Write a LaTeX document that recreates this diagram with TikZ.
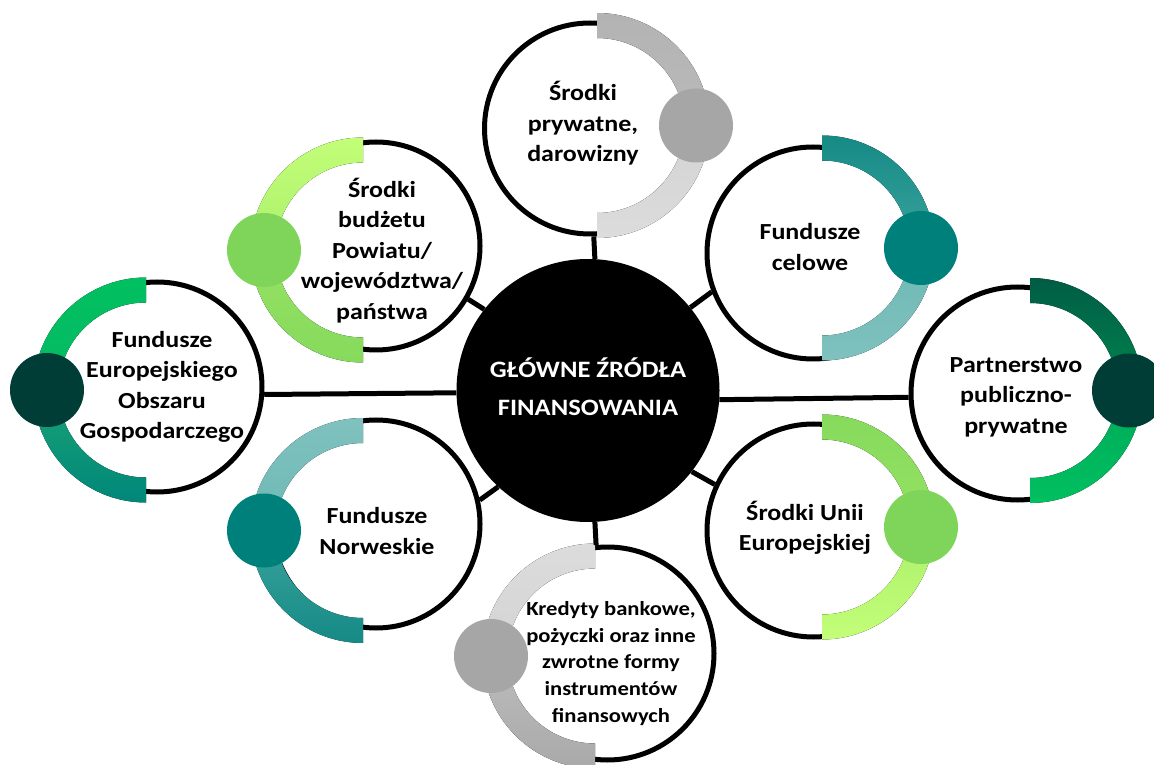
\documentclass[tikz,border=0pt]{standalone}
\usepackage{fontspec}
\setmainfont{Carlito}[FakeStretch=1.13]
\definecolor{gA}{HTML}{B3B3B3}\definecolor{gB}{HTML}{BABABA}
\definecolor{gC}{HTML}{D3D3D3}\definecolor{gD}{HTML}{DCDCDC}
\definecolor{gE}{HTML}{BDBDBD}\definecolor{gF}{HTML}{A9A9A9}
\definecolor{gDot}{HTML}{A6A6A6}
\definecolor{lA}{HTML}{C3FE78}\definecolor{lB}{HTML}{ABF06C}
\definecolor{lC}{HTML}{96E264}\definecolor{lD}{HTML}{86DA5C}
\definecolor{lDot}{HTML}{7ED55A}
\definecolor{tA}{HTML}{168A85}\definecolor{tB}{HTML}{3AA39E}
\definecolor{tC}{HTML}{6EB9B5}\definecolor{tD}{HTML}{7FC1BE}
\definecolor{tDot}{HTML}{00807B}
\definecolor{eA}{HTML}{00C060}\definecolor{eB}{HTML}{08BA64}
\definecolor{eC}{HTML}{1AA375}\definecolor{eD}{HTML}{00877A}
\definecolor{rA}{HTML}{005C44}\definecolor{rB}{HTML}{00864F}
\definecolor{rC}{HTML}{00A85A}
\definecolor{dkDot}{HTML}{003D37}
% #1 centre, #2 dot angle (0 right, 180 left), #3 #4 upper colours, #5 #6 lower colours
\newcommand\bandarcs[6]{%
  \fill[top color=#3,bottom color=#4] (#1) ++(90:112.5pt) arc[start angle=90,end angle=#2,radius=112.5pt] -- ++({#2+180}:25pt) arc[start angle=#2,end angle=90,radius=87.5pt] -- cycle;
  \fill[top color=#5,bottom color=#6] (#1) ++(#2:112.5pt) arc[start angle=#2,end angle={2*#2-90},radius=112.5pt] -- ++(90:25pt) arc[start angle={2*#2-90},end angle=#2,radius=87.5pt] -- cycle;
}
\begin{document}
\begin{tikzpicture}[x=1pt,y=1pt,
  sat/.style={circle,draw=black,line width=5pt,fill=white,inner sep=0pt},
  conn/.style={line width=5pt,draw=black},
  lbl/.style={align=center,font=\bfseries\fontsize{23}{30.5}\selectfont,text=black,inner sep=0pt},
  dotn/.style={circle,inner sep=0pt,minimum size=74pt}]
\useasboundingbox (0,0) rectangle (1154,764);
\fill[white] (0,0) rectangle (1154,764);
% satellites
\node[sat,minimum size=211pt] (P) at (590,635.5) {};
\node[sat,minimum size=208pt] (B) at (376,518) {};
\node[sat,minimum size=212pt] (C) at (813,511) {};
\node[sat,minimum size=210pt] (E) at (157,377) {};
\node[sat,minimum size=213pt] (R) at (1017.5,370.5) {};
\node[sat,minimum size=208pt] (N) at (376,240) {};
\node[sat,minimum size=213pt] (U) at (813.5,233.5) {};
\node[sat,minimum size=213pt] (K) at (607.5,110.5) {};
% band centres
\coordinate (bP) at (597,638.5);
\coordinate (bB) at (363,514);
\coordinate (bC) at (822,516);
\coordinate (bE) at (146,374);
\coordinate (bR) at (1030,373.5);
\coordinate (bN) at (363,233.5);
\coordinate (bU) at (822,237);
\coordinate (bK) at (595,108);
\bandarcs{bP}{0}{gA}{gB}{gC}{gD}
\bandarcs{bB}{180}{lA}{lB}{lC}{lD}
\bandarcs{bC}{0}{tA}{tB}{tC}{tD}
\bandarcs{bE}{180}{eA}{eB}{eC}{eD}
\bandarcs{bR}{0}{rA}{rB}{rC}{eA}
\bandarcs{bN}{180}{tD}{tC}{tB}{tA}
\bandarcs{bU}{0}{lD}{lC}{lB}{lA}
\bandarcs{bK}{180}{gD}{gC}{gE}{gF}
% dots
\node[dotn,fill=gDot,xshift=99pt] (dP) at (bP) {};
\node[dotn,fill=lDot,xshift=-99pt] (dB) at (bB) {};
\node[dotn,fill=tDot,xshift=99pt] (dC) at (bC) {};
\node[dotn,fill=dkDot,xshift=-99pt] (dE) at (bE) {};
\node[dotn,fill=dkDot,xshift=99pt] (dR) at (bR) {};
\node[dotn,fill=tDot,xshift=-99pt] (dN) at (bN) {};
\node[dotn,fill=lDot,xshift=99pt] (dU) at (bU) {};
\node[dotn,fill=gDot,xshift=-104pt] (dK) at (bK) {};
% centre
\node[circle,fill=black,inner sep=0pt,minimum size=263pt] (G) at (588,373.5) {};
% connectors
\draw[conn] (G.87) -- (P.272.7);
\draw[conn] (G.142) -- (B.330);
\draw[conn] (G.39) -- (C.201);
\draw[conn] (G.181.5) -- (E.356.3);
\draw[conn] (G.356.8) -- (R.182.4);
\draw[conn] (G.227) -- (N.13);
\draw[conn] (G.322) -- (U.155);
\draw[conn] (G.273) -- (K.96.6);
% labels
\node[lbl] (tP) at (583,640.5) {Środki\\prywatne,\\darowizny};
\node[lbl] (tB) at (382,513.5) {Środki\\budżetu\\Powiatu/\\województwa/\\państwa};
\node[lbl] (tC) at (810,517) {Fundusze\\celowe};
\node[lbl] (tE) at (162,377) {Fundusze\\Europejskiego\\Obszaru\\Gospodarczego};
\node[lbl] (tR) at (1016,367) {Partnerstwo\\publiczno-\\prywatne};
\node[lbl] (tN) at (377,233) {Fundusze\\Norweskie};
\node[lbl] (tU) at (805,236) {Środki Unii\\Europejskiej};
\node[lbl,font=\bfseries\fontsize{20}{26.7}\selectfont] (tK) at (611,100.5) {Kredyty bankowe,\\pożyczki oraz inne\\zwrotne formy\\instrumentów\\finansowych};
\node[lbl,text=white,font=\bfseries\fontsize{23.5}{38}\selectfont] (tG) at (588,377) {GŁÓWNE ŹRÓDŁA\\FINANSOWANIA};
\end{tikzpicture}
\end{document}
